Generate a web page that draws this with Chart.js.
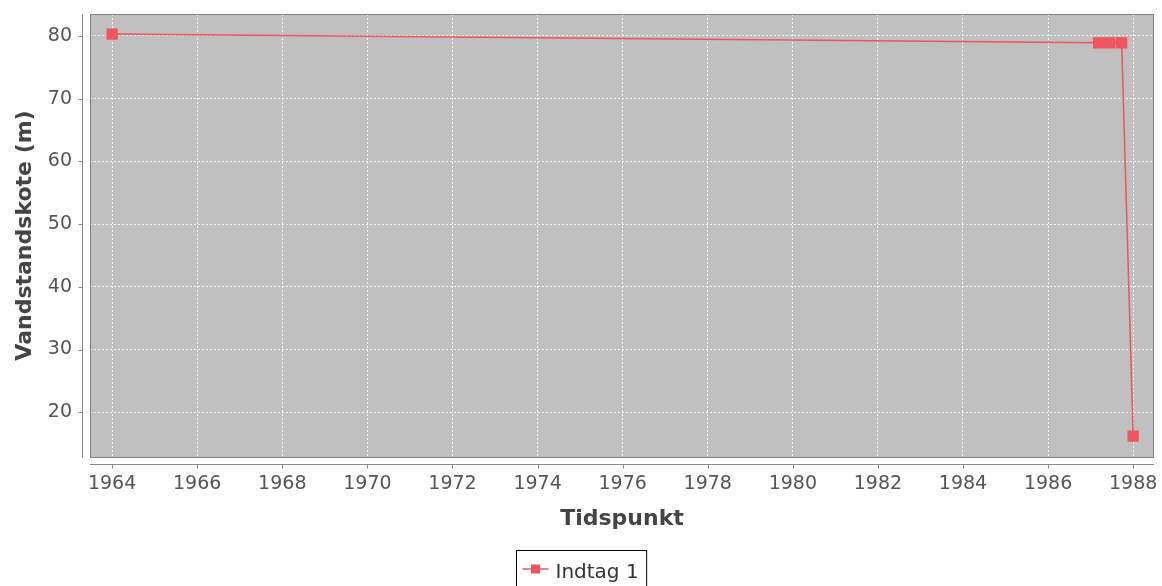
<!DOCTYPE html>
<html>
<head>
<meta charset="utf-8">
<script src="https://cdn.jsdelivr.net/npm/chart.js@4"></script>
<style>
html,body{margin:0;padding:0;background:#fff;}
canvas{display:block;}
</style>
</head>
<body>
<canvas id="c" width="1162" height="586"></canvas>
<script>
// ---- data ----
const seriesName = 'Indtag 1';
const years = [1964.0, 1987.19, 1987.45, 1987.73, 1988.0];
const levels = [80.3, 78.9, 78.9, 78.9, 16.2];
const xTickLabels = [1964,1966,1968,1970,1972,1974,1976,1978,1980,1982,1984,1986,1988];
const yTickLabels = [20,30,40,50,60,70,80];
const xTitle = 'Tidspunkt';
const yTitle = 'Vandstandskote (m)';

const FONT = '"DejaVu Sans", Verdana, sans-serif';
const RED = 'rgb(240,84,92)';

function noPad(s) {
  s.paddingTop = 0; s.paddingBottom = 0; s.paddingLeft = 0; s.paddingRight = 0;
}

const decor = {
  id: 'decor',
  beforeDraw(chart) {
    const {ctx, chartArea: a} = chart;
    ctx.save();
    ctx.fillStyle = '#c0c0c0';
    ctx.fillRect(a.left, a.top, a.right - a.left, a.bottom - a.top);
    ctx.restore();
  },
  afterDatasetsDraw(chart) {
    const {ctx, chartArea: a, scales} = chart;
    ctx.save();
    // plot border
    ctx.strokeStyle = '#808080';
    ctx.lineWidth = 1;
    ctx.strokeRect(a.left + 0.5, a.top + 0.5, a.right - a.left - 1, a.bottom - a.top);
    // offset axis lines
    const ax = a.left - 8 + 0.5;
    const ay = a.bottom + 7 + 0.5;
    ctx.strokeStyle = '#8a8a8a';
    ctx.beginPath();
    ctx.moveTo(ax, a.top); ctx.lineTo(ax, a.bottom + 1);
    ctx.moveTo(a.left, ay); ctx.lineTo(a.right, ay);
    scales.y.ticks.forEach(t => {
      const py = Math.round(scales.y.getPixelForValue(t.value)) + 0.5;
      ctx.moveTo(ax - 4, py); ctx.lineTo(ax, py);
    });
    scales.x.ticks.forEach(t => {
      const px = Math.round(scales.x.getPixelForValue(t.value)) + 0.5;
      ctx.moveTo(px, ay); ctx.lineTo(px, ay + 4);
    });
    ctx.stroke();
    // legend
    const label = chart.data.datasets[0].label;
    ctx.font = '20px ' + FONT;
    const tw = ctx.measureText(label).width;
    const boxW = 6 + 26 + 7 + tw + 8;
    const bx = Math.round(chart.width / 2 - boxW / 2) + 0.5;
    const by = 550.5;
    ctx.strokeStyle = '#000';
    ctx.lineWidth = 1;
    ctx.strokeRect(bx, by, boxW, 50);
    const sy = 569;
    ctx.strokeStyle = RED;
    ctx.lineWidth = 1.5;
    ctx.beginPath();
    ctx.moveTo(bx + 6, sy); ctx.lineTo(bx + 32, sy);
    ctx.stroke();
    ctx.fillStyle = RED;
    ctx.fillRect(bx + 19 - 4.5, sy - 4.5, 9, 9);
    ctx.fillStyle = '#333';
    ctx.textBaseline = 'alphabetic';
    ctx.textAlign = 'left';
    ctx.fillText(label, bx + 39, 578);
    ctx.restore();
  }
};

new Chart(document.getElementById('c'), {
  type: 'line',
  data: {
    datasets: [{
      label: seriesName,
      data: years.map((y, i) => ({x: y, y: levels[i]})),
      borderColor: RED,
      backgroundColor: RED,
      borderWidth: 1.5,
      pointStyle: 'rect',
      pointRadius: 8,
      pointHoverRadius: 8,
      pointBorderWidth: 0,
      tension: 0,
      fill: false
    }]
  },
  options: {
    responsive: false,
    animation: false,
    devicePixelRatio: 1,
    layout: {padding: {top: 14, right: 7, left: 0, bottom: 0}},
    plugins: {legend: {display: false}, tooltip: {enabled: false}},
    scales: {
      x: {
        type: 'linear',
        min: 1963.48,
        max: 1988.49,
        afterBuildTicks: s => { s.ticks = xTickLabels.map(v => ({value: v})); },
        afterFit: s => { s.height = 129; noPad(s); },
        ticks: {
          color: '#555',
          font: {family: FONT, size: 19},
          padding: 16,
          callback: v => String(v),
          maxRotation: 0,
          autoSkip: false
        },
        grid: {
          color: 'rgba(255,255,255,0.85)',
          lineWidth: 1,
          drawTicks: false
        },
        border: {display: false, dash: [2, 2]},
        title: {
          display: true,
          text: xTitle,
          color: '#444',
          font: {family: FONT, size: 22, weight: 'bold'},
          padding: {top: 0, bottom: 54}
        }
      },
      y: {
        type: 'linear',
        min: 12.87,
        max: 83.5,
        afterBuildTicks: s => { s.ticks = yTickLabels.map(v => ({value: v})); },
        afterFit: s => { s.width = 90; noPad(s); },
        ticks: {
          color: '#555',
          font: {family: FONT, size: 19},
          padding: 18,
          callback: v => String(v)
        },
        grid: {
          color: 'rgba(255,255,255,0.85)',
          lineWidth: 1,
          drawTicks: false
        },
        border: {display: false, dash: [2, 2]},
        title: {
          display: true,
          text: yTitle,
          color: '#444',
          font: {family: FONT, size: 22, weight: 'bold'},
          padding: {top: 12, bottom: 0}
        }
      }
    }
  },
  plugins: [decor]
});
</script>
</body>
</html>
